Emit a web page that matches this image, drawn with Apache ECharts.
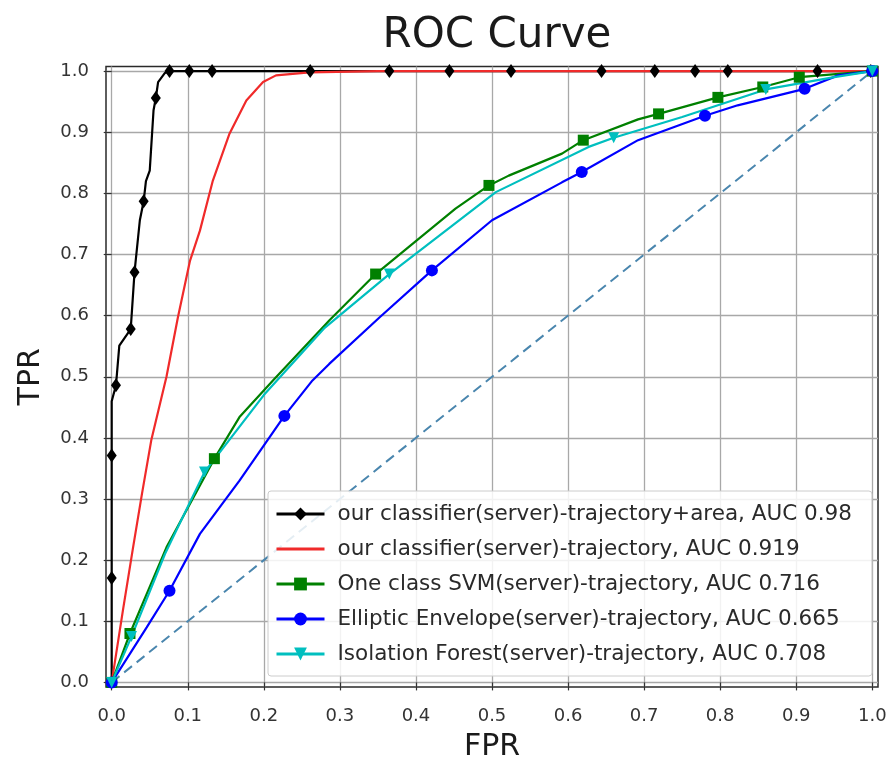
<!DOCTYPE html>
<html>
<head>
<meta charset="utf-8">
<script src="https://cdn.jsdelivr.net/npm/echarts@6/dist/echarts.min.js"></script>
<style>
html,body{margin:0;padding:0;background:#fff;}
#chart{width:890px;height:765px;}
</style>
</head>
<body>
<div id="chart"></div>
<script>
// ---- data ----
const tickValues = [0, 0.1, 0.2, 0.3, 0.4, 0.5, 0.6, 0.7, 0.8, 0.9, 1.0];
const seriesNames = [
  'our classifier(server)-trajectory+area, AUC 0.98',
  'our classifier(server)-trajectory, AUC 0.919',
  'One class SVM(server)-trajectory, AUC 0.716',
  'Elliptic Envelope(server)-trajectory, AUC 0.665',
  'Isolation Forest(server)-trajectory, AUC 0.708'
];

// black: trajectory+area
const blackFpr = [0, 0, 0, 0, 0.0056, 0.01, 0.025, 0.03, 0.037, 0.042, 0.045, 0.05, 0.052, 0.055, 0.058, 0.061, 0.07, 0.076, 0.102, 0.132, 0.261, 0.365, 0.444, 0.525, 0.644, 0.714, 0.767, 0.81, 0.928, 0.998];
const blackTpr = [0, 0.171, 0.371, 0.46, 0.486, 0.551, 0.578, 0.671, 0.756, 0.787, 0.82, 0.837, 0.84, 0.936, 0.956, 0.982, 0.997, 1, 1, 1, 1, 1, 1, 1, 1, 1, 1, 1, 1, 1];
const blackMarks = [1, 2, 4, 6, 7, 9, 14, 17, 18, 19, 20, 21, 22, 23, 24, 25, 26, 27, 28, 29];

// red: trajectory
const redFpr = [0, 0.015, 0.028, 0.04, 0.052, 0.072, 0.087, 0.103, 0.116, 0.133, 0.155, 0.177, 0.199, 0.216, 0.26, 0.35, 0.5, 1.0];
const redTpr = [0, 0.12, 0.22, 0.31, 0.396, 0.5, 0.597, 0.69, 0.739, 0.821, 0.898, 0.952, 0.982, 0.993, 0.998, 1.0, 1.0, 1.0];

// green: One class SVM
const svmFpr = [0, 0.024, 0.072, 0.135, 0.168, 0.212, 0.286, 0.347, 0.452, 0.496, 0.522, 0.592, 0.62, 0.692, 0.719, 0.797, 0.856, 0.904, 1.0];
const svmTpr = [0, 0.08, 0.221, 0.366, 0.434, 0.494, 0.592, 0.668, 0.775, 0.813, 0.829, 0.865, 0.887, 0.921, 0.93, 0.957, 0.974, 0.99, 1.0];
const svmMarks = [0, 1, 3, 7, 9, 12, 14, 15, 16, 17, 18];

// blue: Elliptic Envelope
const eeFpr = [0, 0.046, 0.076, 0.116, 0.168, 0.227, 0.264, 0.286, 0.352, 0.421, 0.5, 0.592, 0.618, 0.692, 0.78, 0.823, 0.911, 0.955, 1.0];
const eeTpr = [0, 0.09, 0.15, 0.243, 0.33, 0.436, 0.494, 0.521, 0.597, 0.674, 0.756, 0.818, 0.835, 0.887, 0.927, 0.944, 0.971, 0.993, 1.0];
const eeMarks = [0, 2, 5, 9, 12, 14, 16, 18];

// cyan: Isolation Forest
const ifFpr = [0, 0.026, 0.07, 0.122, 0.2, 0.28, 0.365, 0.505, 0.627, 0.66, 0.75, 0.86, 0.95, 1.0];
const ifTpr = [0, 0.075, 0.21, 0.344, 0.47, 0.58, 0.668, 0.802, 0.876, 0.891, 0.925, 0.97, 0.99, 1.0];
const ifMarks = [0, 1, 3, 6, 9, 11, 13];

// chance diagonal
const diagFpr = [0, 1];
const diagTpr = [0, 1];

// ---- build ----
function build(xs, ys, marks) {
  return xs.map(function (x, i) {
    const item = { value: [x, ys[i]] };
    if (marks && marks.indexOf(i) < 0) item.symbol = 'none';
    return item;
  });
}

const FONT = 'DejaVu Sans';
const chart = echarts.init(document.getElementById('chart'), null, { renderer: 'canvas' });

function lineSeries(name, xs, ys, marks, color, symbol, size, rotate) {
  return {
    name: name,
    type: 'line',
    data: build(xs, ys, marks),
    symbol: symbol,
    symbolSize: size,
    symbolRotate: rotate || 0,
    showSymbol: true,
    showAllSymbol: true,
    smooth: false,
    animation: false,
    lineStyle: { color: color, width: 2.2 },
    itemStyle: { color: color, borderWidth: 0 },
    emphasis: { disabled: true }
  };
}

const legendData = seriesNames.map(function (n, i) {
  return i === 1 ? { name: n, itemStyle: { opacity: 0 } } : { name: n };
});

const option = {
  animation: false,
  backgroundColor: '#ffffff',
  title: {
    text: 'ROC Curve',
    left: 492,
    top: 10,
    textAlign: 'center',
    textStyle: { fontFamily: FONT, fontSize: 42, fontWeight: 'normal', color: '#1a1a1a' }
  },
  grid: {
    left: 106, right: 12, top: 66.5, bottom: 78,
    outerBoundsMode: 'none', containLabel: false,
    show: true, borderColor: '#2a2a2a', borderWidth: 1.5, backgroundColor: 'transparent'
  },
  legend: {
    left: 268, top: 491,
    orient: 'vertical',
    data: legendData,
    itemWidth: 48, itemHeight: 16, itemGap: 13,
    padding: [12, 20, 11, 7],
    backgroundColor: 'rgba(255,255,255,0.85)',
    borderColor: '#cccccc', borderWidth: 1, borderRadius: 3,
    lineStyle: { width: 3 },
    textStyle: { fontFamily: FONT, fontSize: 21.5, color: '#2a2a2a', lineHeight: 20, padding: [0, 0, 0, 8] },
    selectedMode: false
  },
  xAxis: {
    type: 'value',
    min: -0.0075, max: 1.0075,
    name: 'FPR', nameLocation: 'middle', nameGap: 45,
    nameTextStyle: { fontFamily: FONT, fontSize: 30, color: '#1a1a1a' },
    axisLine: { show: false },
    axisTick: { show: true, inside: false, length: 8, customValues: tickValues, lineStyle: { color: '#333', width: 1.2 } },
    axisLabel: { customValues: tickValues, fontFamily: FONT, fontSize: 18, color: '#333', margin: 20,
      formatter: function (v) { return v.toFixed(1); } },
    splitLine: { show: true, lineStyle: { color: '#a8a8a8', width: 1.3 } }
  },
  yAxis: {
    type: 'value',
    min: -0.0075, max: 1.0075,
    name: 'TPR', nameLocation: 'middle', nameGap: 60,
    nameTextStyle: { fontFamily: FONT, fontSize: 30, color: '#1a1a1a' },
    axisLine: { show: false },
    axisTick: { show: true, inside: false, length: 8, customValues: tickValues, lineStyle: { color: '#333', width: 1.2 } },
    axisLabel: { customValues: tickValues, fontFamily: FONT, fontSize: 18, color: '#333', margin: 17,
      formatter: function (v) { return v.toFixed(1); } },
    splitLine: { show: true, lineStyle: { color: '#a8a8a8', width: 1.3 } }
  },
  series: [
    {
      name: 'chance',
      type: 'line',
      data: build(diagFpr, diagTpr, null),
      symbol: 'none',
      animation: false,
      lineStyle: { color: '#4a86ae', width: 2, type: [10, 6] },
      emphasis: { disabled: true }
    },
    lineSeries(seriesNames[0], blackFpr, blackTpr, blackMarks, '#000000', 'diamond', [10, 14]),
    lineSeries(seriesNames[1], redFpr, redTpr, null, '#f02a2a', 'none', 0),
    lineSeries(seriesNames[2], svmFpr, svmTpr, svmMarks, '#008000', 'rect', 11),
    lineSeries(seriesNames[3], eeFpr, eeTpr, eeMarks, '#0000ff', 'circle', 12),
    lineSeries(seriesNames[4], ifFpr, ifTpr, ifMarks, '#00bfbf', 'triangle', 11, 180)
  ]
};
chart.setOption(option);
</script>
</body>
</html>
